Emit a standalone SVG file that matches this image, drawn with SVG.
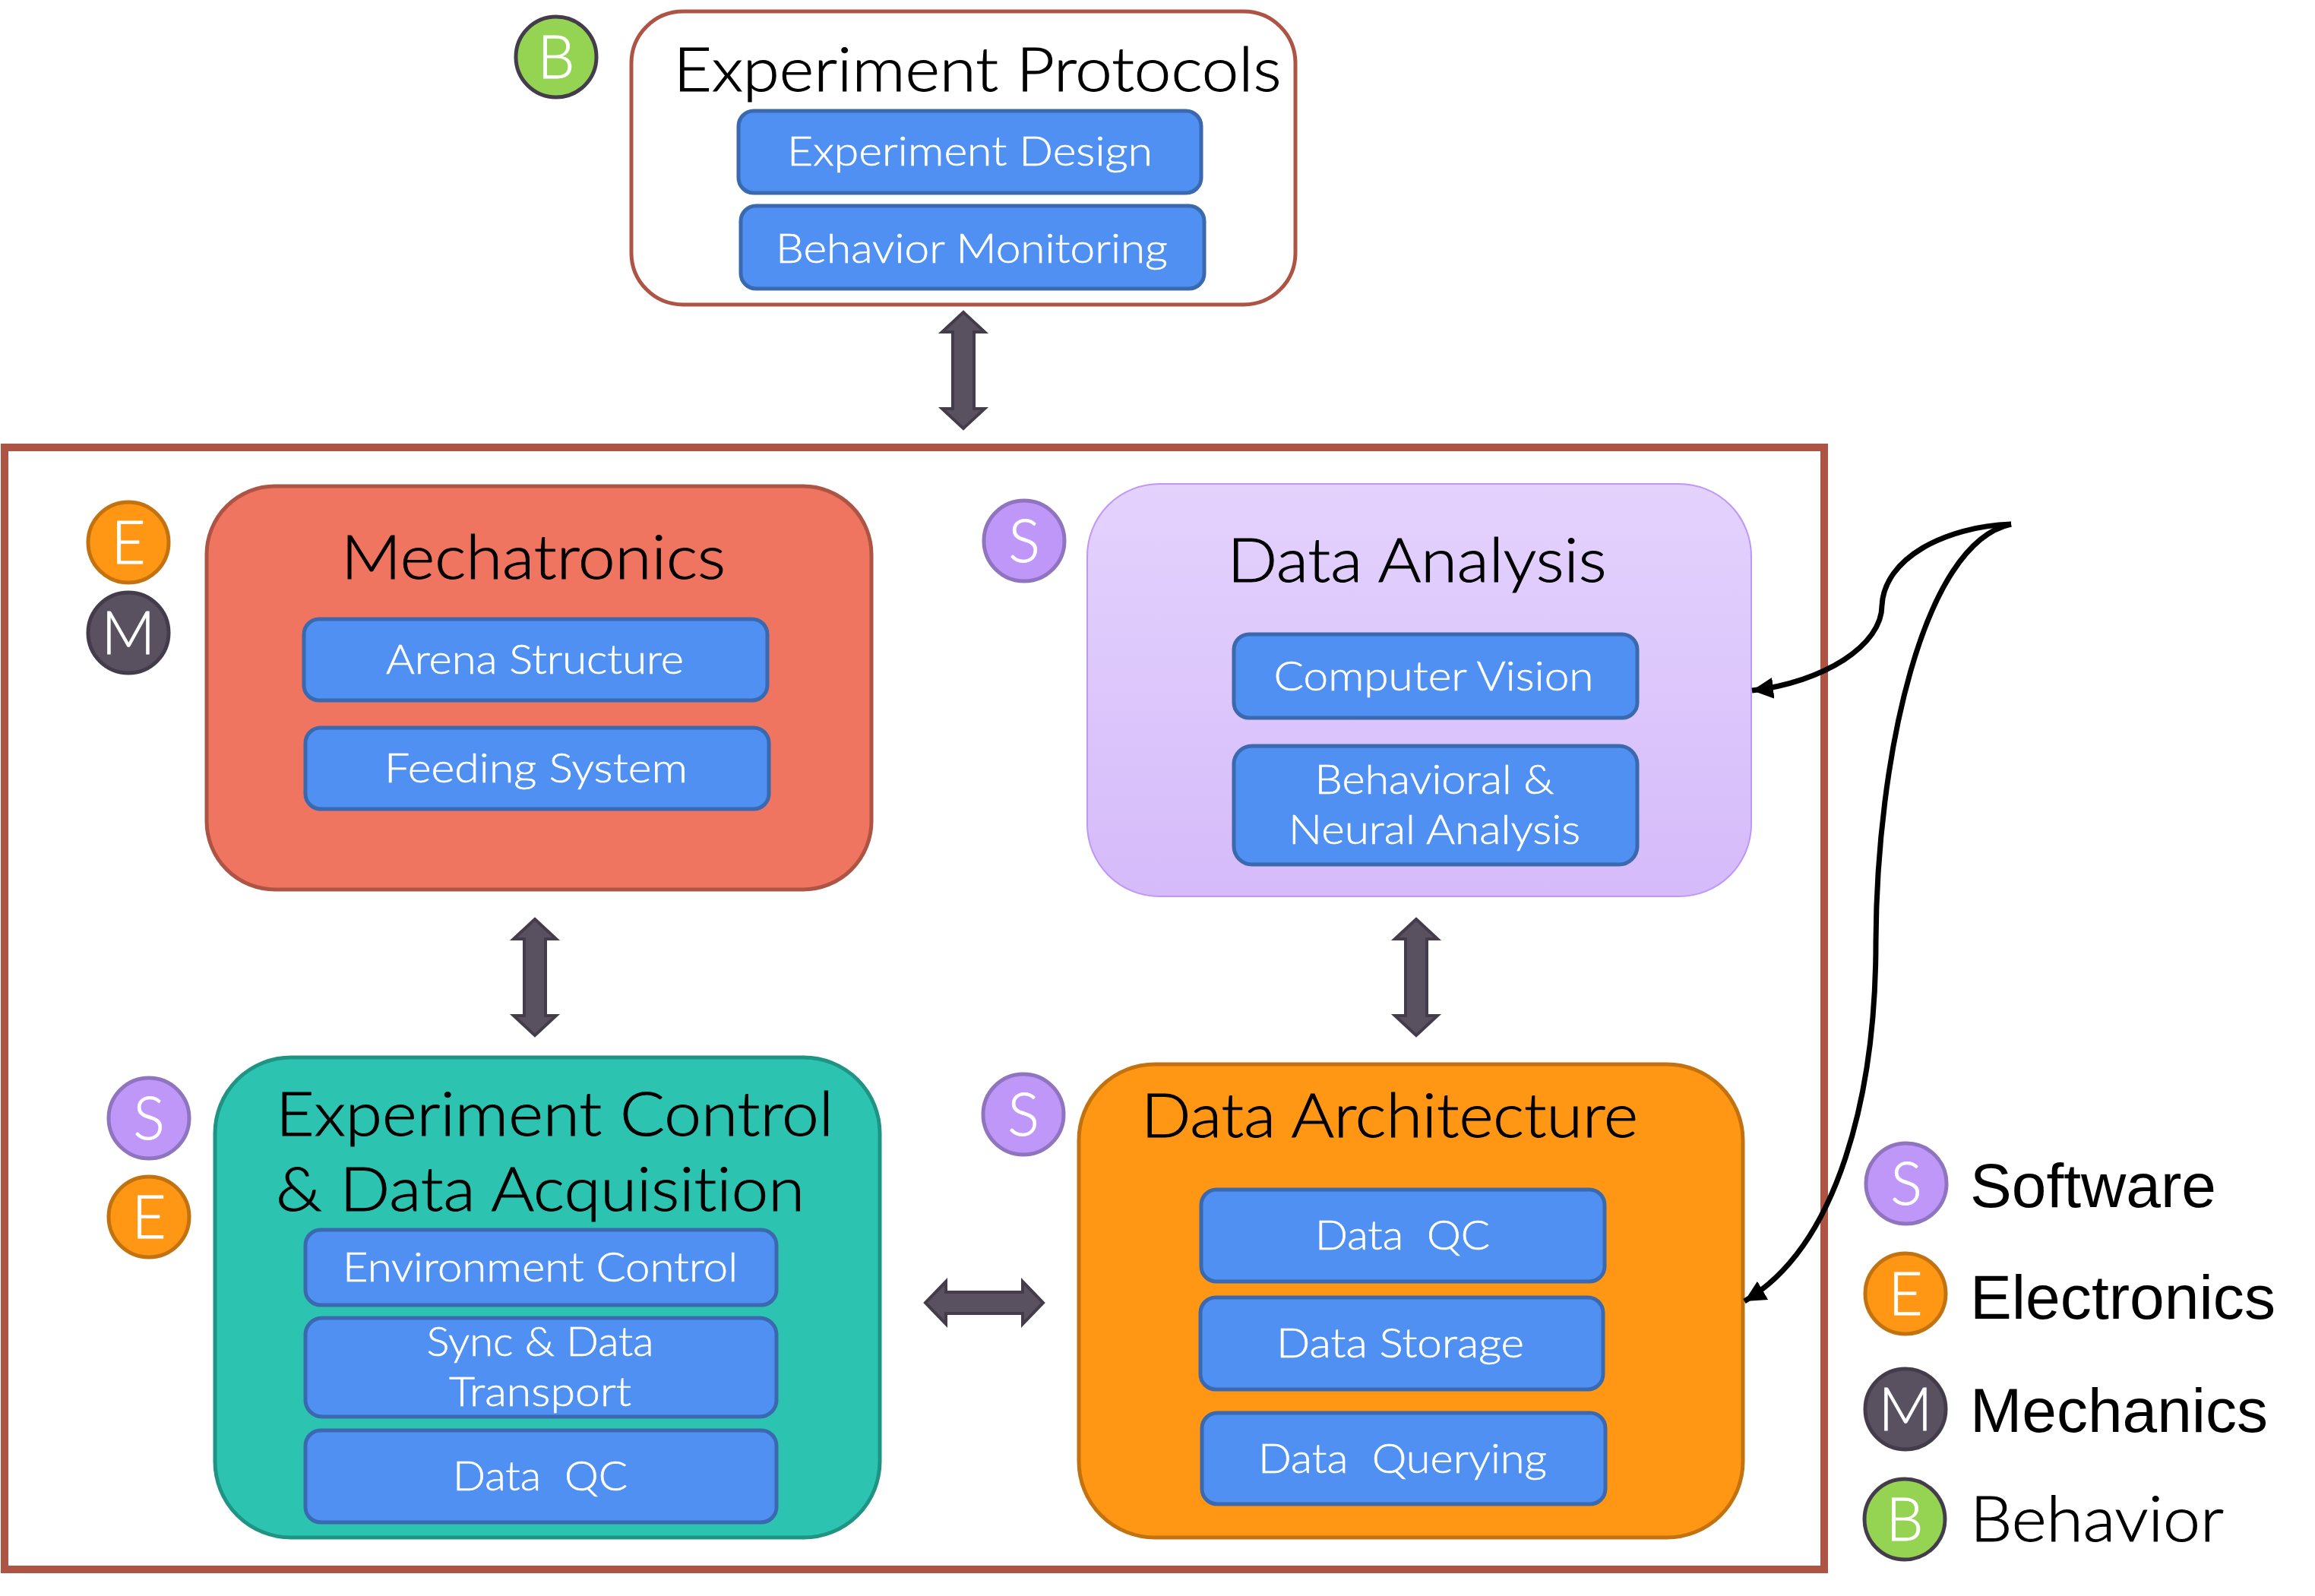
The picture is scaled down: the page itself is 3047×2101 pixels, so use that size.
<svg xmlns="http://www.w3.org/2000/svg" width="3047" height="2101" viewBox="0 0 3047 2101">
<style>
text{font-family:"Lato","Noto Sans",sans-serif;font-weight:300;white-space:pre;font-variant-ligatures:none}
.t{font-size:80px;fill:#000;text-anchor:middle;stroke:#000;stroke-width:1}
.s{font-size:54px;fill:#fff;text-anchor:middle;stroke:#fff;stroke-width:.6}
.bx{fill:#4F90F2;stroke:#3A69B0;stroke-width:5}
.bd{font-size:78px;fill:#fff;text-anchor:middle;stroke:#fff;stroke-width:.8}
.cs{fill:#BE97F8;stroke:#8F74BF;stroke-width:5}
.ce{fill:#FF9614;stroke:#C27310;stroke-width:5}
.cm{fill:#5A5160;stroke:#443C4B;stroke-width:5}
.cb{fill:#95D353;stroke:#443C4B;stroke-width:5}
.lg{font-family:"Liberation Sans",Arial,sans-serif;font-size:82px;fill:#000;font-weight:400}
.a{fill:#5A5160;stroke:#443C4B;stroke-width:4;stroke-linejoin:miter}
.c{fill:none;stroke:#000;stroke-width:7}
</style>
<defs>
<linearGradient id="g" x1="0" y1="0" x2="0" y2="1"><stop offset="0" stop-color="#E4D2FD"/><stop offset="1" stop-color="#D5BBFA"/></linearGradient>
<marker id="ah" markerUnits="userSpaceOnUse" markerWidth="30" markerHeight="28" refX="28" refY="14" orient="auto"><path d="M0,0L28,14L0,28z" fill="#000"/></marker>
</defs>
<rect width="3047" height="2101" fill="#fff"/>
<rect id="frame" x="6" y="589" width="2395" height="1477" fill="none" stroke="#AE5445" stroke-width="10"/>

<g id="protocols">
<rect x="831" y="15" width="874" height="386" rx="68" fill="#fff" stroke="#AE5445" stroke-width="5"/>
<text class="t" x="1286.5" y="120" textLength="800" lengthAdjust="spacingAndGlyphs">Experiment Protocols</text>
<rect class="bx" x="972" y="146" width="609" height="108" rx="20"/>
<text class="s" x="1276.5" y="218" textLength="481" lengthAdjust="spacingAndGlyphs">Experiment Design</text>
<rect class="bx" x="975" y="271" width="610" height="109" rx="20"/>
<text class="s" x="1279" y="346" textLength="516" lengthAdjust="spacingAndGlyphs">Behavior Monitoring</text>
</g>
<g id="badge-b"><circle class="cb" cx="732" cy="75" r="53"/><text class="bd" x="732" y="103">B</text></g>

<g id="mechatronics">
<rect x="272" y="640" width="875" height="531" rx="90" fill="#EF7561" stroke="#AE5445" stroke-width="5"/>
<text class="t" x="702" y="762" textLength="506" lengthAdjust="spacingAndGlyphs">Mechatronics</text>
<rect class="bx" x="400" y="815" width="610" height="107" rx="20"/>
<text class="s" x="704" y="887" textLength="392" lengthAdjust="spacingAndGlyphs">Arena Structure</text>
<rect class="bx" x="402" y="958" width="610" height="107" rx="20"/>
<text class="s" x="705.5" y="1030" textLength="399" lengthAdjust="spacingAndGlyphs">Feeding System</text>
</g>
<g id="badge-e1"><circle class="ce" cx="169" cy="714" r="53"/><text class="bd" x="169" y="742">E</text></g>
<g id="badge-m1"><circle class="cm" cx="169" cy="833" r="53"/><text class="bd" x="169" y="861">M</text></g>

<g id="analysis">
<rect x="1431" y="637" width="874" height="543" rx="95" fill="url(#g)" stroke="#BE97F8" stroke-width="2"/>
<text class="t" x="1865" y="766" textLength="499" lengthAdjust="spacingAndGlyphs">Data Analysis</text>
<rect class="bx" x="1624" y="835" width="531" height="110" rx="20"/>
<text class="s" x="1887" y="909" textLength="421" lengthAdjust="spacingAndGlyphs">Computer Vision</text>
<rect class="bx" x="1624" y="982" width="531" height="156" rx="24"/>
<text class="s" x="1888" y="1045" textLength="315" lengthAdjust="spacingAndGlyphs">Behavioral &amp;</text>
<text class="s" x="1888" y="1111" textLength="384" lengthAdjust="spacingAndGlyphs">Neural Analysis</text>
</g>
<g id="badge-s1"><circle class="cs" cx="1348" cy="712" r="53"/><text class="bd" x="1348" y="740">S</text></g>

<g id="control">
<rect x="283" y="1392" width="875" height="632" rx="100" fill="#2CC3B1" stroke="#1F9485" stroke-width="5"/>
<text class="t" x="730" y="1495" textLength="734" lengthAdjust="spacingAndGlyphs">Experiment Control</text>
<text class="t" x="711" y="1594" textLength="696" lengthAdjust="spacingAndGlyphs">&amp; Data Acquisition</text>
<rect class="bx" x="402" y="1619" width="620" height="99" rx="20"/>
<text class="s" x="711" y="1687" textLength="520" lengthAdjust="spacingAndGlyphs">Environment Control</text>
<rect class="bx" x="402" y="1735" width="620" height="130" rx="22"/>
<text class="s" x="711" y="1785" textLength="299" lengthAdjust="spacingAndGlyphs">Sync &amp; Data</text>
<text class="s" x="711" y="1851" textLength="240" lengthAdjust="spacingAndGlyphs">Transport</text>
<rect class="bx" x="402" y="1883" width="620" height="121" rx="20"/>
<text class="s" x="711" y="1962" textLength="230" lengthAdjust="spacingAndGlyphs">Data  QC</text>
</g>
<g id="badge-s2"><circle class="cs" cx="196" cy="1472" r="53"/><text class="bd" x="196" y="1500">S</text></g>
<g id="badge-e2"><circle class="ce" cx="196" cy="1602" r="53"/><text class="bd" x="196" y="1630">E</text></g>

<g id="architecture">
<rect x="1420" y="1401" width="874" height="623" rx="100" fill="#FF9614" stroke="#C27310" stroke-width="5"/>
<text class="t" x="1829" y="1497" textLength="654" lengthAdjust="spacingAndGlyphs">Data Architecture</text>
<rect class="bx" x="1581" y="1566" width="531" height="121" rx="20"/>
<text class="s" x="1846" y="1645" textLength="230" lengthAdjust="spacingAndGlyphs">Data  QC</text>
<rect class="bx" x="1580" y="1708" width="530" height="121" rx="20"/>
<text class="s" x="1843" y="1787" textLength="326" lengthAdjust="spacingAndGlyphs">Data Storage</text>
<rect class="bx" x="1582" y="1860" width="531" height="120" rx="20"/>
<text class="s" x="1846" y="1939" textLength="380" lengthAdjust="spacingAndGlyphs">Data  Querying</text>
</g>
<g id="badge-s3"><circle class="cs" cx="1347" cy="1467" r="53"/><text class="bd" x="1347" y="1495">S</text></g>

<g id="connectors">
<path class="a" d="M1268,411L1296,437H1282V538H1296L1268,564L1240,538H1254V437H1240z"/>
<path class="a" d="M704,1210L732,1236H718V1337H732L704,1363L676,1337H690V1236H676z"/>
<path class="a" d="M1864,1210L1892,1236H1878V1337H1892L1864,1363L1836,1337H1850V1236H1836z"/>
<path class="a" d="M1218,1715L1245,1687V1701H1346V1687L1373,1715L1346,1743V1729H1245V1743z"/>
<path class="c" marker-end="url(#ah)" d="M2647,690C2560,693 2480,735 2477,797C2477,850 2400,898 2306,909"/>
<path class="c" marker-end="url(#ah)" d="M2647,690C2530,715 2470,1000 2469,1240C2469,1440 2420,1640 2296,1713"/>
</g>

<g id="legend">
<circle class="cs" cx="2509" cy="1558" r="53"/><text class="bd" x="2509" y="1586">S</text>
<text class="lg" x="2593" y="1589" textLength="324" lengthAdjust="spacingAndGlyphs">Software</text>
<circle class="ce" cx="2508" cy="1703" r="53"/><text class="bd" x="2508" y="1731">E</text>
<text class="lg" x="2593" y="1736" textLength="402" lengthAdjust="spacingAndGlyphs">Electronics</text>
<circle class="cm" cx="2508" cy="1855" r="53"/><text class="bd" x="2508" y="1883">M</text>
<text class="lg" x="2593" y="1885" textLength="392" lengthAdjust="spacingAndGlyphs">Mechanics</text>
<circle class="cb" cx="2507" cy="2000" r="53"/><text class="bd" x="2507" y="2028">B</text>
<text x="2593" y="2029" textLength="334" lengthAdjust="spacingAndGlyphs" style="font-size:82px;fill:#000;stroke:#000;stroke-width:1">Behavior</text>
</g>
</svg>
